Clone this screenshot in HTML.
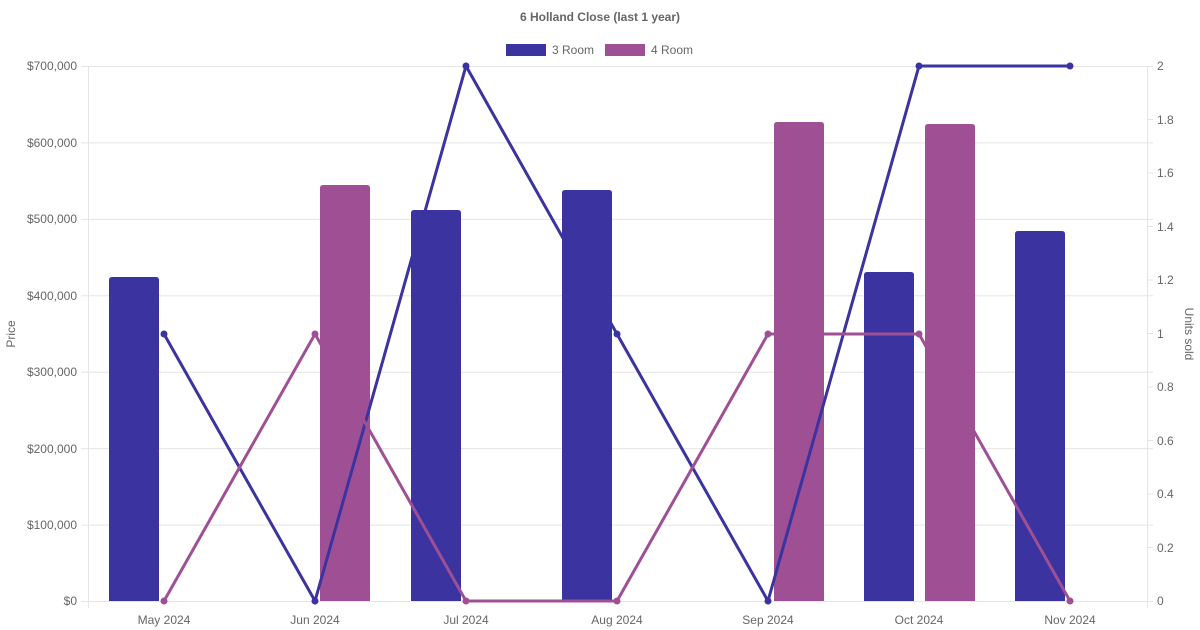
<!DOCTYPE html>
<html><head><meta charset="utf-8"><style>body{margin:0;background:#fff}svg{display:block}text{font-family:"Liberation Sans",sans-serif;fill:#666}</style></head><body>
<svg width="1200" height="630" xmlns="http://www.w3.org/2000/svg">
<text x="600" y="21" text-anchor="middle" font-size="12" font-weight="bold">6 Holland Close (last 1 year)</text>
<rect x="506" y="44" width="40" height="12" fill="#3a33a0"/><text x="552" y="54" font-size="12">3 Room</text>
<rect x="605" y="44" width="40" height="12" fill="#9f5095"/><text x="651" y="54" font-size="12">4 Room</text>
<g stroke="#e5e5e5" stroke-width="1">
<line x1="81" y1="66.5" x2="1153" y2="66.5"/><line x1="81" y1="142.9" x2="1153" y2="142.9"/><line x1="81" y1="219.4" x2="1153" y2="219.4"/><line x1="81" y1="295.8" x2="1153" y2="295.8"/><line x1="81" y1="372.2" x2="1153" y2="372.2"/><line x1="81" y1="448.6" x2="1153" y2="448.6"/><line x1="81" y1="525.1" x2="1153" y2="525.1"/><line x1="81" y1="601.5" x2="1153" y2="601.5"/>
<line x1="88.5" y1="66" x2="88.5" y2="608"/><line x1="1147.5" y1="66" x2="1147.5" y2="608"/>
<line x1="1147" y1="119.5" x2="1153" y2="119.5"/><line x1="1147" y1="173" x2="1153" y2="173"/><line x1="1147" y1="226.5" x2="1153" y2="226.5"/><line x1="1147" y1="280" x2="1153" y2="280"/><line x1="1147" y1="333.5" x2="1153" y2="333.5"/><line x1="1147" y1="387" x2="1153" y2="387"/><line x1="1147" y1="440.5" x2="1153" y2="440.5"/><line x1="1147" y1="494" x2="1153" y2="494"/><line x1="1147" y1="547.5" x2="1153" y2="547.5"/>
</g>
<g font-size="12" text-anchor="end">
<text x="77" y="70">$700,000</text><text x="77" y="147">$600,000</text><text x="77" y="223">$500,000</text><text x="77" y="300">$400,000</text><text x="77" y="376">$300,000</text><text x="77" y="453">$200,000</text><text x="77" y="529">$100,000</text><text x="77" y="605">$0</text>
</g>
<g font-size="12">
<text x="1157" y="70">2</text><text x="1157" y="124">1.8</text><text x="1157" y="177">1.6</text><text x="1157" y="231">1.4</text><text x="1157" y="284">1.2</text><text x="1157" y="338">1</text><text x="1157" y="391">0.8</text><text x="1157" y="445">0.6</text><text x="1157" y="498">0.4</text><text x="1157" y="552">0.2</text><text x="1157" y="605">0</text>
</g>
<g font-size="12" text-anchor="middle">
<text x="164" y="624">May 2024</text><text x="315" y="624">Jun 2024</text><text x="466" y="624">Jul 2024</text><text x="617" y="624">Aug 2024</text><text x="768" y="624">Sep 2024</text><text x="919" y="624">Oct 2024</text><text x="1070" y="624">Nov 2024</text>
</g>
<text transform="translate(15,334) rotate(-90)" font-size="12" text-anchor="middle">Price</text>
<text transform="translate(1185,334) rotate(90)" font-size="12" text-anchor="middle">Units sold</text>
<g fill="#3a33a0">
<path d="M109,601V280q0,-3 3,-3h44q3,0 3,3V601z"/>
<path d="M411,601V213q0,-3 3,-3h44q3,0 3,3V601z"/>
<path d="M562,601V193q0,-3 3,-3h44q3,0 3,3V601z"/>
<path d="M864,601V275q0,-3 3,-3h44q3,0 3,3V601z"/>
<path d="M1015,601V234q0,-3 3,-3h44q3,0 3,3V601z"/>
</g>
<g fill="#9f5095">
<path d="M320,601V188q0,-3 3,-3h44q3,0 3,3V601z"/>
<path d="M774,601V125q0,-3 3,-3h44q3,0 3,3V601z"/>
<path d="M925,601V127q0,-3 3,-3h44q3,0 3,3V601z"/>
</g>
<polyline fill="none" stroke="#3a33a0" stroke-width="3" points="164,334 315,601 466,66 617,334 768,601 919,66 1070,66"/>
<polyline fill="none" stroke="#9f5095" stroke-width="3" points="164,601 315,334 466,601 617,601 768,334 919,334 1070,601"/>
<g fill="#3a33a0"><circle cx="164" cy="334" r="3.5"/><circle cx="315" cy="601" r="3.5"/><circle cx="466" cy="66" r="3.5"/><circle cx="617" cy="334" r="3.5"/><circle cx="768" cy="601" r="3.5"/><circle cx="919" cy="66" r="3.5"/><circle cx="1070" cy="66" r="3.5"/></g>
<g fill="#9f5095"><circle cx="164" cy="601" r="3.5"/><circle cx="315" cy="334" r="3.5"/><circle cx="466" cy="601" r="3.5"/><circle cx="617" cy="601" r="3.5"/><circle cx="768" cy="334" r="3.5"/><circle cx="919" cy="334" r="3.5"/><circle cx="1070" cy="601" r="3.5"/></g>
</svg>
</body></html>
